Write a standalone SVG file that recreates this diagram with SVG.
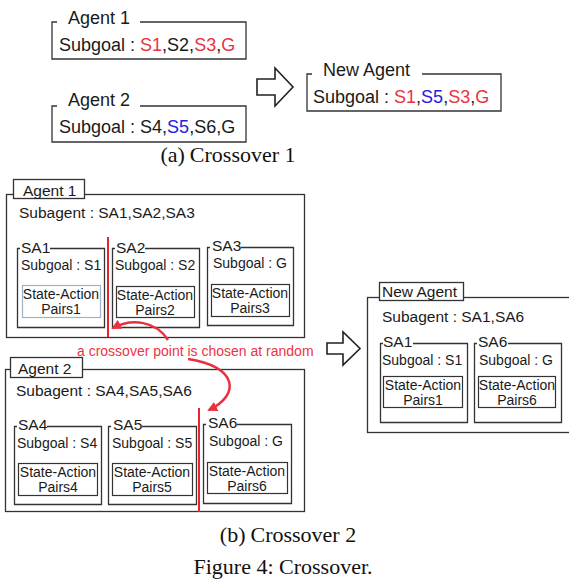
<svg xmlns="http://www.w3.org/2000/svg" width="569" height="583" viewBox="0 0 569 583">
<style>
.bg{fill:#fff}
.box{fill:none;stroke:#333;stroke-width:1.3}
.tab{fill:#fff;stroke:#333;stroke-width:1.3}
.inner{fill:#fff;stroke:#333;stroke-width:1.2}
.innerb{fill:#fff;stroke:#9fb2c8;stroke-width:1.2}
.hollow{fill:#fff;stroke:#222;stroke-width:1.6;stroke-linejoin:miter}
text{font-family:"Liberation Sans",Arial,sans-serif;fill:#1a1a1a}
.t18{font-size:18px}
.t15{font-size:15.5px}
.t14{font-size:14px}
.c{text-anchor:middle}
.red{fill:#e8333f}
.blue{fill:#2222dd}
.cap{font-family:"Liberation Serif","Times New Roman",serif;font-size:22px;text-anchor:middle;fill:#111}
.cut{stroke:#e52530;stroke-width:2;fill:none}
.curve{stroke:#e8333f;stroke-width:2.5;fill:none;marker-end:url(#ah)}
</style>
<defs>
<marker id="ah" viewBox="0 0 10 10" refX="8" refY="5" markerWidth="4" markerHeight="4" orient="auto" markerUnits="strokeWidth">
<path d="M0,0 L10,5 L0,10 z" fill="#e8333f"/>
</marker>
</defs>
<rect class="bg" x="0" y="0" width="569" height="583"/>

<!-- (a) Crossover 1 -->
<g id="a-agent1">
<path class="box" d="M57,22 H52 V59 H246 V22 H140"/>
<text class="t18" x="68" y="24">Agent 1</text>
<text class="t18" x="59" y="51">Subgoal : <tspan class="red">S1</tspan>,S2,<tspan class="red">S3</tspan>,<tspan class="red">G</tspan></text>
</g>
<g id="a-agent2">
<path class="box" d="M57,106 H52 V142 H246 V106 H140"/>
<text class="t18" x="68" y="106">Agent 2</text>
<text class="t18" x="59" y="133">Subgoal : S4,<tspan class="blue">S5</tspan>,S6,G</text>
</g>
<g id="a-arrow">
<polygon class="hollow" points="257,79 275,79 275,68 293,87 275,106 275,95 257,95"/>
</g>
<g id="a-newagent">
<path class="box" d="M312,74 H307 V111 H501 V74 H422"/>
<text class="t18" x="323" y="76">New Agent</text>
<text class="t18" x="313" y="103">Subgoal : <tspan class="red">S1</tspan>,<tspan class="blue">S5</tspan>,<tspan class="red">S3</tspan>,<tspan class="red">G</tspan></text>
</g>
<text class="cap" x="228" y="162">(a)<tspan dx="5">Crossover 1</tspan></text>

<!-- (b) Crossover 2 -->
<g id="b-agent1">
<rect class="box" x="6.5" y="194.5" width="298" height="143"/>
<rect class="tab" x="13.5" y="179.5" width="71" height="19"/>
<text class="t15" x="23" y="196">Agent 1</text>
<text class="t15" x="19" y="218">Subagent : SA1,SA2,SA3</text>
<g id="b-sa1">
<path class="box" d="M20,248.5 H17.5 V327.5 H104.5 V248.5 H50"/>
<text class="t15" x="21" y="253">SA1</text>
<text class="t14" x="21" y="270">Subgoal : S1</text>
<rect class="innerb" x="22.5" y="285.5" width="78" height="32"/>
<text class="t14 c" x="61" y="299">State-Action</text>
<text class="t14 c" x="61" y="314">Pairs1</text>
</g>
<g id="b-sa2">
<path class="box" d="M115,248.5 H112.5 V327.5 H199.5 V248.5 H145"/>
<text class="t15" x="116" y="253">SA2</text>
<text class="t14" x="115" y="270">Subgoal : S2</text>
<rect class="inner" x="116.5" y="286.5" width="78" height="31"/>
<text class="t14 c" x="155" y="300">State-Action</text>
<text class="t14 c" x="155" y="315">Pairs2</text>
</g>
<g id="b-sa3">
<path class="box" d="M210,247.5 H207.5 V325.5 H293.5 V247.5 H241"/>
<text class="t15" x="212" y="251">SA3</text>
<text class="t14" x="213" y="268">Subgoal : G</text>
<rect class="inner" x="211.5" y="284.5" width="78" height="32"/>
<text class="t14 c" x="250" y="298">State-Action</text>
<text class="t14 c" x="250" y="313">Pairs3</text>
</g>
</g>

<g id="b-agent2">
<rect class="box" x="5.5" y="369.5" width="299" height="142"/>
<rect class="tab" x="10.5" y="357.5" width="72" height="20"/>
<text class="t15" x="18" y="374">Agent 2</text>
<text class="t15" x="16" y="396">Subagent : SA4,SA5,SA6</text>
<g id="b-sa4">
<path class="box" d="M17,426.5 H14.5 V504.5 H101.5 V426.5 H47"/>
<text class="t15" x="18" y="430">SA4</text>
<text class="t14" x="17" y="448">Subgoal : S4</text>
<rect class="inner" x="18.5" y="463.5" width="79" height="32"/>
<text class="t14 c" x="58" y="477">State-Action</text>
<text class="t14 c" x="58" y="492">Pairs4</text>
</g>
<g id="b-sa5">
<path class="box" d="M111,426.5 H108.5 V504.5 H196.5 V426.5 H142"/>
<text class="t15" x="113" y="430">SA5</text>
<text class="t14" x="112" y="448">Subgoal : S5</text>
<rect class="inner" x="112.5" y="463.5" width="80" height="32"/>
<text class="t14 c" x="152" y="477">State-Action</text>
<text class="t14 c" x="152" y="492">Pairs5</text>
</g>
<g id="b-sa6">
<path class="box" d="M206,424.5 H203.5 V503.5 H291.5 V424.5 H237"/>
<text class="t15" x="208" y="428">SA6</text>
<text class="t14" x="209" y="446">Subgoal : G</text>
<rect class="inner" x="207.5" y="462.5" width="80" height="31"/>
<text class="t14 c" x="247" y="476">State-Action</text>
<text class="t14 c" x="247" y="491">Pairs6</text>
</g>
</g>

<g id="b-arrow">
<polygon class="hollow" points="327,343 343,343 343,332 360,348.5 343,365 343,354 327,354"/>
</g>

<g id="b-newagent">
<rect class="box" x="367.5" y="297.5" width="210" height="135"/>
<rect class="tab" x="379.5" y="282.5" width="84" height="18"/>
<text class="t15" x="382" y="297">New Agent</text>
<text class="t15" x="382" y="322">Subagent : SA1,SA6</text>
<g id="b-new-sa1">
<path class="box" d="M383,343.5 H380.5 V422.5 H467.5 V343.5 H413"/>
<text class="t15" x="383" y="347">SA1</text>
<text class="t14" x="382" y="365">Subgoal : S1</text>
<rect class="inner" x="383.5" y="376.5" width="79" height="31"/>
<text class="t14 c" x="423" y="390">State-Action</text>
<text class="t14 c" x="423" y="405">Pairs1</text>
</g>
<g id="b-new-sa6">
<path class="box" d="M477,343.5 H474.5 V422.5 H561.5 V343.5 H508"/>
<text class="t15" x="478" y="347">SA6</text>
<text class="t14" x="479" y="365">Subgoal : G</text>
<rect class="inner" x="478.5" y="376.5" width="77" height="31"/>
<text class="t14 c" x="517" y="390">State-Action</text>
<text class="t14 c" x="517" y="405">Pairs6</text>
</g>
</g>

<g id="connectors">
<line class="cut" x1="108" y1="237" x2="108" y2="337"/>
<line class="cut" x1="199" y1="408" x2="199" y2="512"/>
<path class="curve" d="M168,340 C156,321 132,318 113,328"/>
<path class="curve" d="M188,359 C236,366 242,394 209,410"/>
</g>
<text class="t14" x="77" y="356" style="fill:#ee3344">a crossover point is chosen at random</text>

<text class="cap" x="288" y="542">(b)<tspan dx="5">Crossover 2</tspan></text>
<text class="cap" x="283" y="574">Figure 4: Crossover.</text>
</svg>
